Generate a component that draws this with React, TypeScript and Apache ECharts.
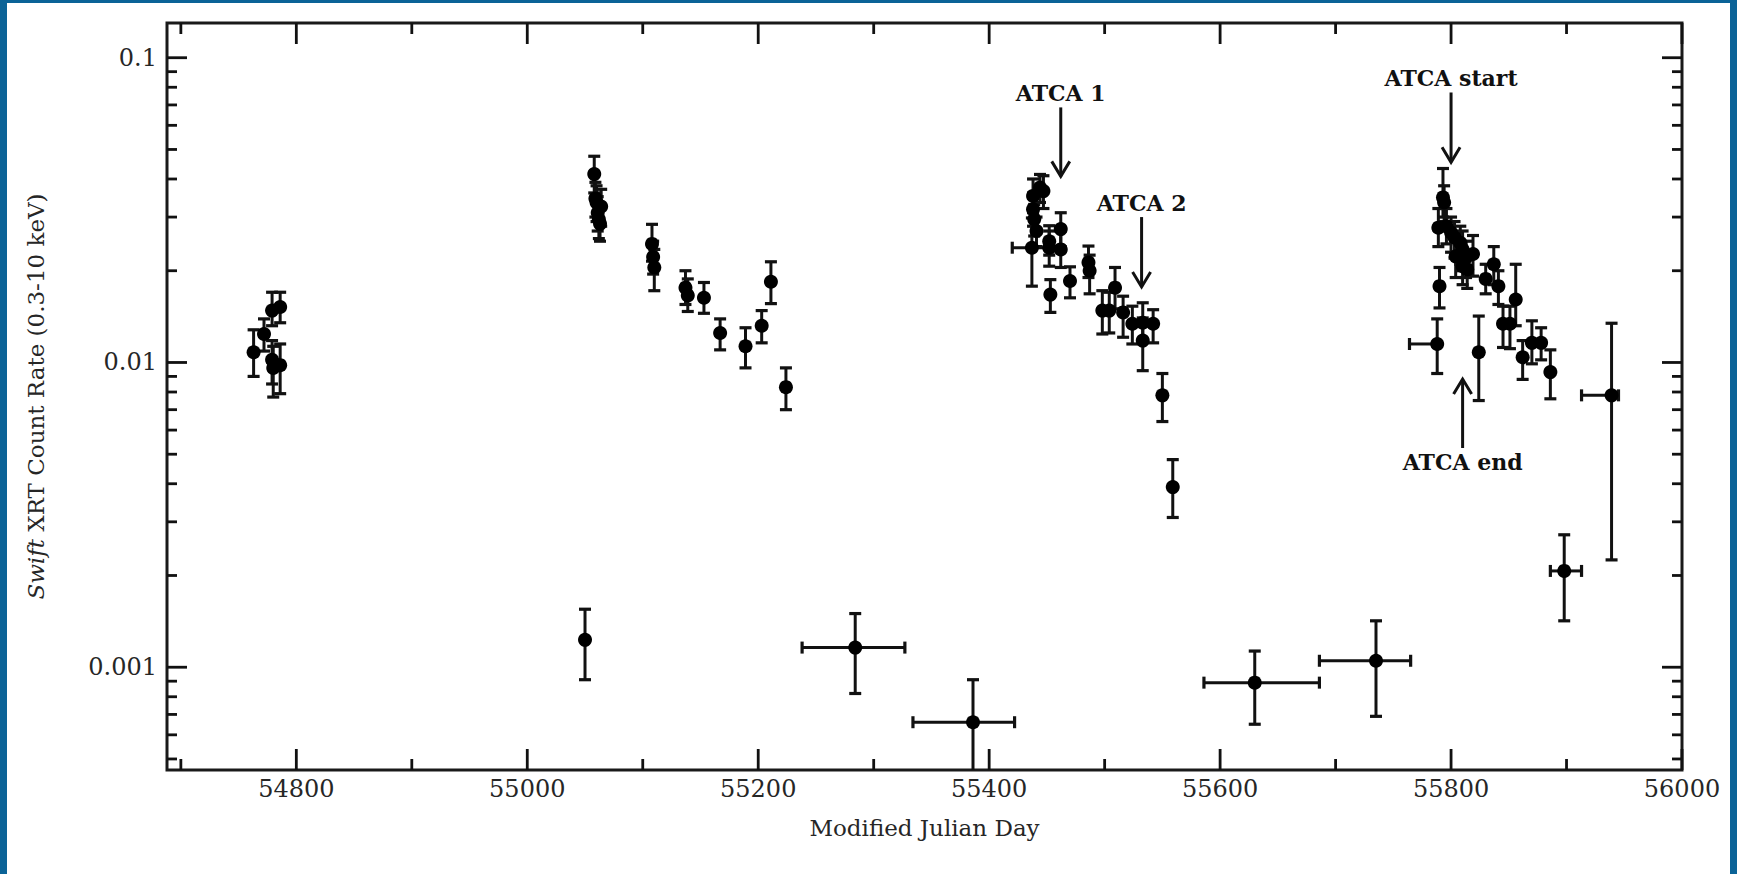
import React, { useEffect, useRef } from "react";
import * as echarts from "echarts";

// ---- Axis ranges & ticks ----
const X_MIN = 54688;
const X_MAX = 56000;
const Y_MIN = 0.00046;
const Y_MAX = 0.13;

const xMajorTicks = [54800, 55000, 55200, 55400, 55600, 55800, 56000];
const xMinorTicks = [54700, 54900, 55100, 55300, 55500, 55700, 55900];
const yMajorTicks = [0.001, 0.01, 0.1];
const yTickLabels = ["0.001", "0.01", "0.1"];
const yMinorTicks = [
  0.0005, 0.0006, 0.0007, 0.0008, 0.0009,
  0.002, 0.003, 0.004, 0.005, 0.006, 0.007, 0.008, 0.009,
  0.02, 0.03, 0.04, 0.05, 0.06, 0.07, 0.08, 0.09,
];

// ---- Snapshot measurements (no time-bin error) ----
const snapMjd = [
  54763, 54772, 54779, 54786, 54779, 54786, 54780,
  55050,
  55058, 55059, 55060, 55061, 55062, 55063, 55064,
  55108, 55109, 55110, 55137, 55139, 55153, 55167, 55189, 55203, 55211, 55224,
  55438, 55438, 55439, 55441, 55444, 55447, 55452, 55452, 55453, 55462, 55462,
  55470, 55486, 55487, 55498, 55504, 55509, 55516, 55524, 55533, 55533, 55542,
  55550, 55559,
  55789, 55790, 55793, 55794, 55796, 55800, 55803, 55804, 55808, 55810, 55810,
  55813, 55814, 55819, 55824, 55830, 55837, 55841, 55845, 55851, 55856, 55862,
  55870, 55878, 55886,
];
const snapRate = [
  0.0108, 0.0124, 0.0148, 0.0152, 0.0102, 0.0098, 0.0096,
  0.00123,
  0.0415, 0.0345, 0.0335, 0.031, 0.0295, 0.0285, 0.0325,
  0.0245, 0.0222, 0.0205, 0.0176, 0.0166, 0.0163, 0.0125, 0.0113, 0.0132, 0.0184, 0.0083,
  0.0352, 0.0318, 0.0295, 0.027, 0.0375, 0.0365, 0.025, 0.0238, 0.0167, 0.0274, 0.0235,
  0.0185, 0.0213, 0.02, 0.0148, 0.0148, 0.0176, 0.0146, 0.0134, 0.0135, 0.0118, 0.0134,
  0.0078, 0.0039,
  0.0277, 0.0178, 0.0348, 0.0335, 0.028, 0.0267, 0.0257, 0.0223, 0.0247, 0.0235, 0.0207,
  0.0221, 0.0202, 0.0227, 0.0108, 0.0188, 0.021, 0.0178, 0.0134, 0.0134, 0.0161, 0.0104,
  0.0116, 0.0116, 0.0093,
];
const snapLow = [
  0.009, 0.0109, 0.0132, 0.0135, 0.0085, 0.0079, 0.0077,
  0.00091,
  0.036, 0.03, 0.029, 0.027, 0.0255, 0.025, 0.028,
  0.0215, 0.0195, 0.0172, 0.0155, 0.0147, 0.0145, 0.011, 0.0096, 0.0116, 0.0156, 0.007,
  0.031, 0.028, 0.026, 0.024, 0.0335, 0.032, 0.0225, 0.0207, 0.0146, 0.024, 0.0205,
  0.0163, 0.019, 0.0168, 0.0124, 0.0125, 0.015, 0.0121, 0.0115, 0.0117, 0.0094, 0.0116,
  0.0064, 0.0031,
  0.024, 0.0151, 0.03, 0.029, 0.0245, 0.023, 0.022, 0.019, 0.021, 0.02, 0.018,
  0.019, 0.0175, 0.0192, 0.0075, 0.0168, 0.018, 0.0155, 0.0112, 0.0111, 0.0132, 0.0088,
  0.0099, 0.0102, 0.0076,
];
const snapHigh = [
  0.0128, 0.0139, 0.017, 0.017, 0.0118, 0.0115, 0.0113,
  0.00155,
  0.0475, 0.039, 0.038, 0.035, 0.0335, 0.0325, 0.037,
  0.0284, 0.025, 0.0235, 0.02, 0.0188, 0.0183, 0.0139, 0.013, 0.0148, 0.0214, 0.0096,
  0.04, 0.036, 0.033, 0.03, 0.0414, 0.041, 0.0281, 0.027, 0.0187, 0.031, 0.027,
  0.0206, 0.0241, 0.0225, 0.0172, 0.017, 0.0205, 0.0165, 0.0153, 0.0157, 0.014, 0.0149,
  0.0092, 0.0048,
  0.032, 0.0205, 0.0433, 0.038, 0.032, 0.03, 0.029, 0.025, 0.028, 0.027, 0.023,
  0.025, 0.023, 0.0261, 0.0142, 0.021, 0.024, 0.02, 0.0153, 0.0153, 0.021, 0.0118,
  0.0137, 0.013, 0.011,
];

// ---- Time-binned measurements (with horizontal error) ----
const binMjd = [55284, 55386, 55437, 55630, 55735, 55788, 55898, 55939];
const binStart = [55238, 55334, 55420, 55586, 55686, 55764, 55886, 55913];
const binEnd = [55327, 55422, 55455, 55686, 55765, 55790, 55913, 55945];
const binRate = [0.00116, 0.00066, 0.0238, 0.00089, 0.00105, 0.0115, 0.00207, 0.0078];
const binLow = [0.00082, 0.0004, 0.0178, 0.00065, 0.00069, 0.0092, 0.00142, 0.00225];
const binHigh = [0.0015, 0.00091, 0.0298, 0.00113, 0.00142, 0.0139, 0.00272, 0.01345];

// ---- Annotations ----
const annotationLabels = ["ATCA 1", "ATCA 2", "ATCA start", "ATCA end"];
const annotationMjd = [55462, 55532, 55800, 55810];
const annotationTip = [0.0408, 0.0177, 0.0454, 0.00882];
const annotationTail = [0.0687, 0.03, 0.0769, 0.00524];

const FONT = '"DejaVu Serif", "Liberation Serif", serif';
const INK = "#111111";
const TEXT = "#262626";

export default function App() {
  const ref = useRef<HTMLDivElement>(null);

  useEffect(() => {
    document.body.style.margin = "0";
    const chart = echarts.init(ref.current!, null, { renderer: "svg" });

    const errData: number[][] = [];
    snapMjd.forEach((m, i) => errData.push([m, snapRate[i], snapLow[i], snapHigh[i], m, m]));
    binMjd.forEach((m, i) => errData.push([m, binRate[i], binLow[i], binHigh[i], binStart[i], binEnd[i]]));

    const pointData: number[][] = [];
    snapMjd.forEach((m, i) => pointData.push([m, snapRate[i]]));
    binMjd.forEach((m, i) => pointData.push([m, binRate[i]]));

    const annData = annotationMjd.map((m, i) => [m, annotationTip[i], annotationTail[i], i]);

    const seg = (x1: number, y1: number, x2: number, y2: number, w = 2.8) => ({
      type: "line",
      shape: { x1, y1, x2, y2 },
      style: { stroke: INK, lineWidth: w },
    });

    const option: any = {
      animation: false,
      backgroundColor: "#ffffff",
      grid: {
        left: 167,
        right: 55,
        top: 23,
        bottom: 104,
        show: true,
        borderColor: "#1a1a1a",
        borderWidth: 3,
        backgroundColor: "transparent",
      },
      graphic: [
        { type: "rect", left: 0, top: 0, shape: { width: 7, height: 874 }, style: { fill: "#0b6397" }, z: 100 },
        { type: "rect", left: 0, top: 0, shape: { width: 1737, height: 3 }, style: { fill: "#0b6397" }, z: 100 },
        { type: "rect", left: 1730, top: 0, shape: { width: 7, height: 874 }, style: { fill: "#0b6397" }, z: 100 },
      ],
      xAxis: {
        type: "value",
        min: X_MIN,
        max: X_MAX,
        minInterval: 200,
        maxInterval: 200,
        axisLine: { show: false },
        axisTick: { show: false },
        splitLine: { show: false },
        axisLabel: {
          formatter: (v: number) => (xMajorTicks.includes(Math.round(v)) ? String(Math.round(v)) : ""),
          fontFamily: FONT,
          fontSize: 24,
          color: TEXT,
          margin: 7,
        },
        name: "Modified Julian Day",
        nameLocation: "middle",
        nameGap: 46,
        nameTextStyle: { fontFamily: FONT, fontSize: 23, color: TEXT },
      },
      yAxis: {
        type: "log",
        logBase: 10,
        min: Y_MIN,
        max: Y_MAX,
        axisLine: { show: false },
        axisTick: { show: false },
        minorTick: { show: false },
        splitLine: { show: false },
        axisLabel: {
          formatter: (v: number) => {
            const i = yMajorTicks.findIndex((t) => Math.abs(Math.log10(v / t)) < 1e-6);
            return i >= 0 ? yTickLabels[i] : "";
          },
          fontFamily: FONT,
          fontSize: 24,
          color: TEXT,
          margin: 10,
        },
        name: "{i|Swift} XRT Count Rate (0.3-10 keV)",
        nameLocation: "middle",
        nameRotate: 90,
        nameGap: 120,
        nameTextStyle: {
          fontFamily: FONT,
          fontSize: 23,
          color: TEXT,
          rich: { i: { fontStyle: "italic", fontFamily: FONT, fontSize: 23, color: TEXT } },
        },
      },
      series: [
        {
          type: "custom",
          name: "ticks",
          clip: false,
          silent: true,
          data: [[55000, 0.01]],
          encode: { x: 0, y: 1 },
          renderItem: (params: any, api: any) => {
            const cs = params.coordSys;
            const left = cs.x, right = cs.x + cs.width, top = cs.y, bottom = cs.y + cs.height;
            const children: any[] = [];
            xMajorTicks.forEach((v) => {
              const x = api.coord([v, 0.01])[0];
              children.push(seg(x, bottom, x, bottom - 21), seg(x, top, x, top + 21));
            });
            xMinorTicks.forEach((v) => {
              const x = api.coord([v, 0.01])[0];
              children.push(seg(x, bottom, x, bottom - 11), seg(x, top, x, top + 11));
            });
            yMajorTicks.forEach((v) => {
              const y = api.coord([55000, v])[1];
              children.push(seg(left, y, left + 20, y), seg(right, y, right - 20, y));
            });
            yMinorTicks.forEach((v) => {
              const y = api.coord([55000, v])[1];
              children.push(seg(left, y, left + 10, y), seg(right, y, right - 10, y));
            });
            return { type: "group", children };
          },
          z: 3,
        },
        {
          type: "custom",
          name: "errors",
          clip: true,
          silent: true,
          data: errData,
          encode: { x: 0, y: 1 },
          renderItem: (params: any, api: any) => {
            const x = api.value(0), y = api.value(1), lo = api.value(2), hi = api.value(3);
            const xs = api.value(4), xe = api.value(5);
            const pLo = api.coord([x, lo]);
            const pHi = api.coord([x, hi]);
            const c = 6;
            const children: any[] = [
              seg(pLo[0], pLo[1], pHi[0], pHi[1], 3),
              seg(pLo[0] - c, pLo[1], pLo[0] + c, pLo[1], 3.2),
              seg(pHi[0] - c, pHi[1], pHi[0] + c, pHi[1], 3.2),
            ];
            if (xe > xs) {
              const pS = api.coord([xs, y]);
              const pE = api.coord([xe, y]);
              children.push(
                seg(pS[0], pS[1], pE[0], pE[1], 3),
                seg(pS[0], pS[1] - c, pS[0], pS[1] + c, 3.2),
                seg(pE[0], pE[1] - c, pE[0], pE[1] + c, 3.2)
              );
            }
            return { type: "group", children };
          },
          z: 4,
        },
        {
          type: "scatter",
          name: "rate",
          data: pointData,
          symbol: "circle",
          symbolSize: 14,
          itemStyle: { color: "#000000", opacity: 1 },
          z: 5,
        },
        {
          type: "custom",
          name: "annotations",
          clip: false,
          silent: true,
          data: annData,
          encode: { x: 0, y: 1 },
          renderItem: (params: any, api: any) => {
            const i = params.dataIndex;
            const m = annotationMjd[i];
            const tip = api.coord([m, annotationTip[i]]);
            const tail = api.coord([m, annotationTail[i]]);
            const dir = tip[1] > tail[1] ? 1 : -1;
            return {
              type: "group",
              children: [
                seg(tail[0], tail[1], tip[0], tip[1], 3),
                {
                  type: "polyline",
                  shape: {
                    points: [
                      [tip[0] - 9, tip[1] - dir * 15],
                      [tip[0], tip[1]],
                      [tip[0] + 9, tip[1] - dir * 15],
                    ],
                  },
                  style: { stroke: INK, lineWidth: 3, fill: null },
                },
                {
                  type: "text",
                  x: tail[0],
                  y: tail[1] - dir * 3,
                  style: {
                    text: annotationLabels[i],
                    fontFamily: FONT,
                    fontSize: 22,
                    fontWeight: "bold",
                    fill: "#111111",
                    align: "center",
                    verticalAlign: dir > 0 ? "bottom" : "top",
                  },
                },
              ],
            };
          },
          z: 6,
        },
      ],
    };

    chart.setOption(option);
    return () => chart.dispose();
  }, []);

  return (
    <div
      ref={ref}
      style={{ position: "fixed", left: 0, top: 0, width: 1737, height: 874, background: "#fff" }}
    />
  );
}
